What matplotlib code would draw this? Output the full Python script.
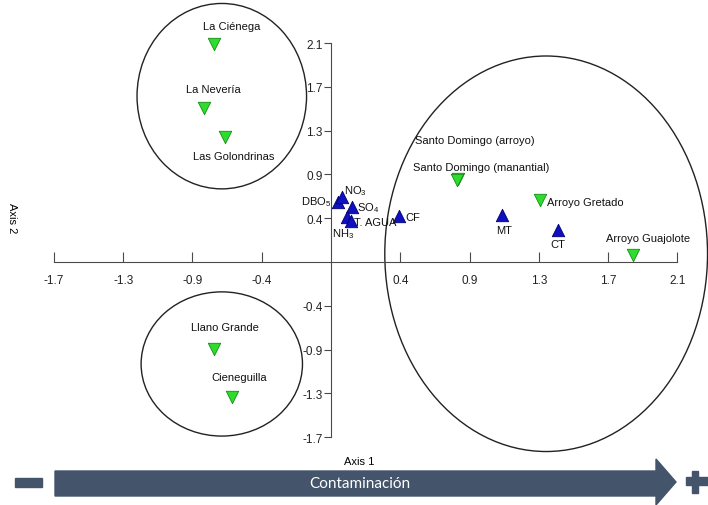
import matplotlib
matplotlib.use("Agg")
import matplotlib.pyplot as plt
from matplotlib.patches import Ellipse, Polygon, Rectangle

plt.rcParams["font.family"] = ["Liberation Sans", "DejaVu Sans"]
plt.rcParams["mathtext.default"] = "regular"

# sites (green, pointing down)
site_names = ["La Ciénega", "La Nevería", "Las Golondrinas", "Santo Domingo (arroyo)",
              "Santo Domingo (manantial)", "Arroyo Gretado", "Arroyo Guajolote",
              "Llano Grande", "Cieneguilla"]
site_x = [-0.72, -0.78, -0.65, 0.78, 0.77, 1.28, 1.85, -0.72, -0.61]
site_y = [2.12, 1.50, 1.21, 0.81, 0.80, 0.60, 0.07, -0.84, -1.31]

# variables (blue, pointing up)
var_names = ["DBO$_5$", "NO$_3$", "SO$_4$", "NH$_3$", "T. AGUA", "CF", "MT", "CT"]
var_x = [0.04, 0.07, 0.13, 0.10, 0.12, 0.42, 1.05, 1.39]
var_y = [0.58, 0.63, 0.53, 0.44, 0.40, 0.45, 0.46, 0.31]

tick_vals = [-1.7, -1.275, -0.85, -0.425, 0.425, 0.85, 1.275, 1.7, 2.125]
tick_text = ["-1.7", "-1.3", "-0.9", "-0.4", "0.4", "0.9", "1.3", "1.7", "2.1"]

# group ellipses: centre x, centre y, width, height
groups = [(-0.67, 1.61, 1.04, 1.80),
          (-0.67, -0.99, 0.99, 1.40),
          (1.32, 0.08, 1.98, 3.84)]

# label offsets in pixels (dx, dy, ha)
site_off = [(-11, 18, "left"), (-18, 19, "left"), (-32, -19, "left"), (-43, 39, "left"),
            (-44, 13, "left"), (7, -2, "left"), (-27, 17, "left"), (-23, 22, "left"),
            (-20, 20, "left")]
var_off = [(-6, 1, "right"), (2, 7, "left"), (5, 0, "left"), (-15, -16, "left"),
           (3, -1, "left"), (6, -1, "left"), (2, -15, "center"), (0, -14, "center")]

fig = plt.figure(figsize=(7.08, 5.06), dpi=100)
ax = fig.add_axes([0, 0, 1, 1])
ax.set_xlim(-331 / 163, 377 / 163)
ax.set_ylim(-243 / 103, 263 / 103)

for cx, cy, w, h in groups:
    ax.add_patch(Ellipse((cx, cy), w, h, fill=False, edgecolor="#222222", lw=1.0))

ax.scatter(site_x, site_y, marker="v", s=80, color="#2edc2e", edgecolors="#158a15",
           linewidths=0.6, zorder=3)
ax.scatter(var_x, var_y, marker="^", s=80, color="#1010c0", edgecolors="#000070",
           linewidths=0.6, zorder=3)

for name, x, y, (dx, dy, ha) in zip(site_names, site_x, site_y, site_off):
    ax.annotate(name, (x, y), xytext=(dx, dy), textcoords="offset pixels",
                ha=ha, va="center", fontsize=8, color="#111111")
for name, x, y, (dx, dy, ha) in zip(var_names, var_x, var_y, var_off):
    ax.annotate(name, (x, y), xytext=(dx, dy), textcoords="offset pixels",
                ha=ha, va="center", fontsize=8, color="#111111")

for side in ["top", "right"]:
    ax.spines[side].set_visible(False)
ax.spines["left"].set_position(("data", 0))
ax.spines["bottom"].set_position(("data", 0))
ax.spines["left"].set_bounds(-1.7, 2.125)
ax.spines["bottom"].set_bounds(-1.7, 2.125)
for side in ["left", "bottom"]:
    ax.spines[side].set_color("#4a4a4a")
    ax.spines[side].set_linewidth(0.8)

ax.set_xticks(tick_vals, tick_text)
ax.set_yticks(tick_vals, tick_text)
ax.tick_params(axis="x", direction="in", length=7, pad=9, labelsize=8.5,
               color="#4a4a4a", labelcolor="#222222")
ax.tick_params(axis="y", direction="out", length=5, pad=1, labelsize=8.5,
               color="#4a4a4a", labelcolor="#222222")

fig.text(359 / 708, 1 - 462 / 506, "Axis 1", ha="center", va="center", fontsize=8)
fig.text(12 / 708, 1 - 218 / 506, "Axis 2", ha="center", va="center", fontsize=8,
         rotation=270)

# contamination arrow underneath
deco = fig.add_axes([0, 0, 1, 1], facecolor="none")
deco.set_xlim(0, 708)
deco.set_ylim(506, 0)
deco.axis("off")
arrow_col = "#44546a"
deco.add_patch(Polygon([(55, 472), (656, 472), (656, 460), (676, 483), (656, 506),
                        (656, 497), (55, 497)], closed=True, color=arrow_col))
deco.add_patch(Rectangle((15, 479), 27, 9, color=arrow_col))
deco.add_patch(Rectangle((686, 478), 22, 8, color=arrow_col))
deco.add_patch(Rectangle((692, 472), 6, 22, color=arrow_col))
deco.text(360, 484, "Contaminación", ha="center", va="center", color="white",
          fontsize=11, family=["Lato", "DejaVu Sans"])

fig.savefig("out.png", dpi=100)
